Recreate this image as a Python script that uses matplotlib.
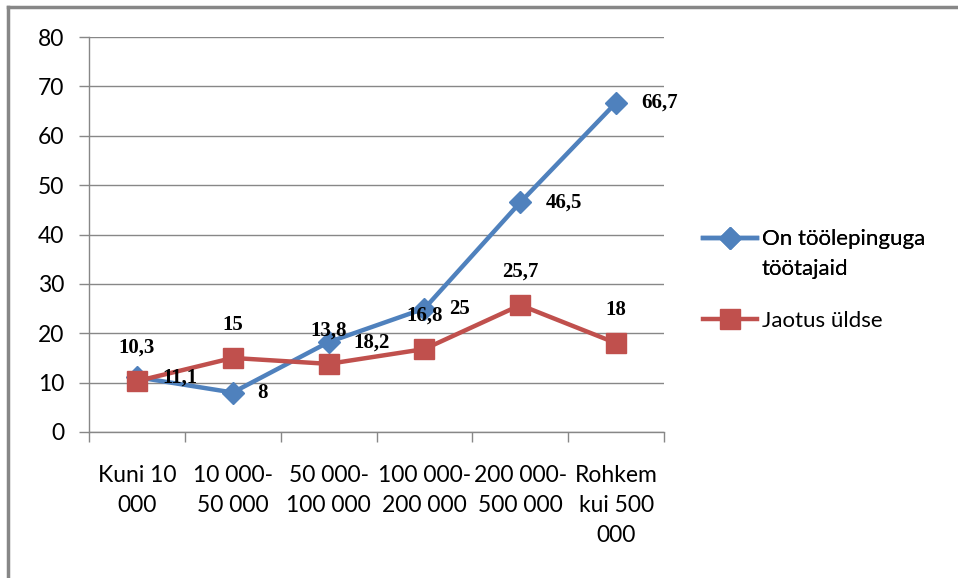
import matplotlib.pyplot as plt
from matplotlib.lines import Line2D

categories = ["Kuni 10\n000", "10 000-\n50 000", "50 000-\n100 000",
              "100 000-\n200 000", "200 000-\n500 000", "Rohkem\nkui 500\n000"]
tootajaid = [11.1, 8, 18.2, 25, 46.5, 66.7]
uldse = [10.3, 15, 13.8, 16.8, 25.7, 18]
name_tootajaid = ["On töölepinguga", "töötajaid"]
name_uldse = "Jaotus üldse"

blue = "#4F81BD"
red = "#C0504D"
grey = "#878787"

plt.rcParams["font.family"] = ["Lato", "DejaVu Sans"]

fig = plt.figure(figsize=(9.58, 5.78), dpi=100)
ax = fig.add_axes([89 / 958, 1 - 432 / 578, 575 / 958, 395 / 578])

x = list(range(len(categories)))
ax.plot(x, tootajaid, color=blue, lw=3.2, marker="D", ms=11, zorder=3)
ax.plot(x, uldse, color=red, lw=3.2, marker="s", ms=14, zorder=4)

# value labels: blue to the right, red above
for i, v in enumerate(tootajaid):
    ax.annotate(f"{v:g}".replace(".", ","), (i, v), xytext=(18, 0),
                textcoords="offset points", ha="left", va="center",
                fontsize=15, family="Liberation Serif", weight="bold", zorder=5)
for i, v in enumerate(uldse):
    ax.annotate(f"{v:g}".replace(".", ","), (i, v), xytext=(0, 24),
                textcoords="offset points", ha="center", va="center",
                fontsize=15, family="Liberation Serif", weight="bold", zorder=5)

ax.set_xlim(-0.5, len(categories) - 0.5)
ax.set_ylim(0, 80)
ax.set_yticks(range(0, 81, 10))
ax.yaxis.grid(True, color=grey, lw=1)
ax.set_axisbelow(True)

ax.set_xticks(x)
ax.set_xticklabels(categories, fontsize=16.5, linespacing=1.52, va="top")
ax.tick_params(axis="x", which="major", length=0, pad=24)
ax.set_xticks([i - 0.5 for i in range(len(categories) + 1)], minor=True)
ax.tick_params(axis="x", which="minor", length=7, color=grey, width=1)
ax.tick_params(axis="y", length=7, color=grey, width=1, labelsize=16.5, pad=11)

for s in ["top", "right"]:
    ax.spines[s].set_visible(False)
for s in ["left", "bottom"]:
    ax.spines[s].set_color(grey)
    ax.spines[s].set_linewidth(1)

# legend: two-line name with the marker on the first line
leg_kw = dict(frameon=False, fontsize=16, handlelength=2.45, handletextpad=0.2,
              loc="center left")
h_blue = Line2D([], [], color=blue, lw=3.2, marker="D", ms=11)
h_none = Line2D([], [], color="none")
h_red = Line2D([], [], color=red, lw=3.2, marker="s", ms=14)
leg1 = fig.legend([h_blue, h_none], name_tootajaid, labelspacing=0.42,
                  bbox_to_anchor=(683 / 958, 1 - 254 / 578), **leg_kw)
fig.add_artist(leg1)
fig.legend([h_red], [name_uldse], bbox_to_anchor=(683 / 958, 1 - 321 / 578), **leg_kw)

# outer frame
fig.add_artist(Line2D([8 / 958, 8 / 958], [0, 1 - 7 / 578], color=grey, lw=2.5,
                      transform=fig.transFigure))
fig.add_artist(Line2D([8 / 958, 1], [1 - 7 / 578, 1 - 7 / 578], color=grey, lw=2.5,
                      transform=fig.transFigure))

fig.savefig("out.png", dpi=100)
